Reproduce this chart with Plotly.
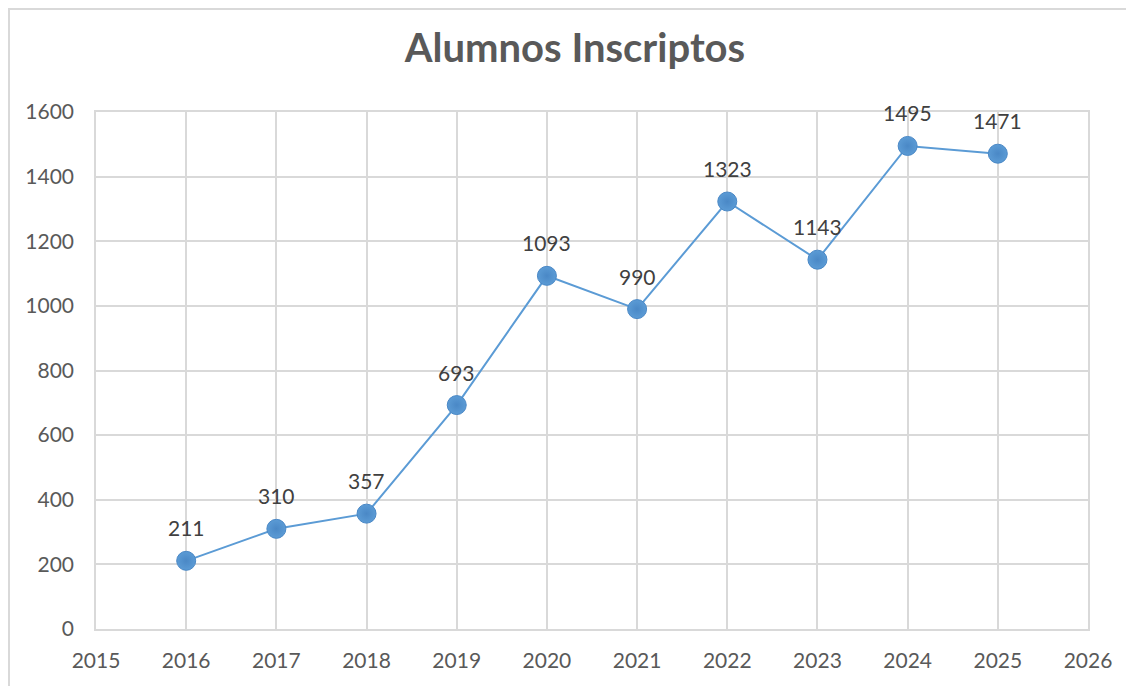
import plotly.graph_objects as go

years = [2016, 2017, 2018, 2019, 2020, 2021, 2022, 2023, 2024, 2025]
alumnos = [211, 310, 357, 693, 1093, 990, 1323, 1143, 1495, 1471]
x_ticks = list(range(2015, 2027))
y_ticks = list(range(0, 1601, 200))

W, H = 1126, 678
L, R, T, B = 88, 46, 104, 57
pw, ph = W - L - R, H - T - B
FONT = "Lato, Calibri, sans-serif"

fig = go.Figure()
fig.add_trace(go.Scatter(
    x=years, y=alumnos, mode="lines+markers",
    line=dict(color="#5B9BD5", width=2),
    marker=dict(size=19, color="#5B9BD5",
                line=dict(color="#4A88C6", width=1),
                gradient=dict(type="radial", color="#4A88C6")),
    hoverinfo="x+y", showlegend=False,
))

annotations = [dict(x=x, y=y, text=str(y), showarrow=False, yshift=33,
                    xanchor="center", yanchor="middle",
                    font=dict(family=FONT, size=21, color="#404040"))
               for x, y in zip(years, alumnos)]

fig.update_layout(
    width=W, height=H,
    margin=dict(l=L, r=R, t=T, b=B, autoexpand=False),
    paper_bgcolor="white", plot_bgcolor="white",
    title=dict(text="<b>Alumnos Inscriptos</b>", x=567 / W, xanchor="center",
               y=1 - 40 / H, yanchor="middle", xref="container", yref="container",
               font=dict(family=FONT, size=40, color="#595959")),
    xaxis=dict(range=[2015, 2026], tickvals=x_ticks, ticktext=[str(v) for v in x_ticks],
               showgrid=True, gridcolor="#D9D9D9", gridwidth=1.5, zeroline=False,
               showline=True, linecolor="#D9D9D9", linewidth=1.5, mirror=True,
               ticks="", ticklabelstandoff=12,
               tickfont=dict(family=FONT, size=21, color="#595959")),
    yaxis=dict(range=[0, 1600], tickvals=y_ticks,
               showgrid=True, gridcolor="#D9D9D9", gridwidth=1.5, zeroline=False,
               showline=True, linecolor="#D9D9D9", linewidth=1.5, mirror=True,
               ticks="", ticklabelstandoff=16,
               tickfont=dict(family=FONT, size=21, color="#595959")),
    annotations=annotations,
    shapes=[dict(type="rect", xref="paper", yref="paper",
                 x0=(1 - L) / pw, x1=(W + 20 - L) / pw,
                 y0=(H - B - (H + 20)) / ph, y1=(H - B - 1) / ph,
                 line=dict(color="#D9D9D9", width=2), fillcolor="rgba(0,0,0,0)", layer="below")],
)

fig.write_html("out.html")
